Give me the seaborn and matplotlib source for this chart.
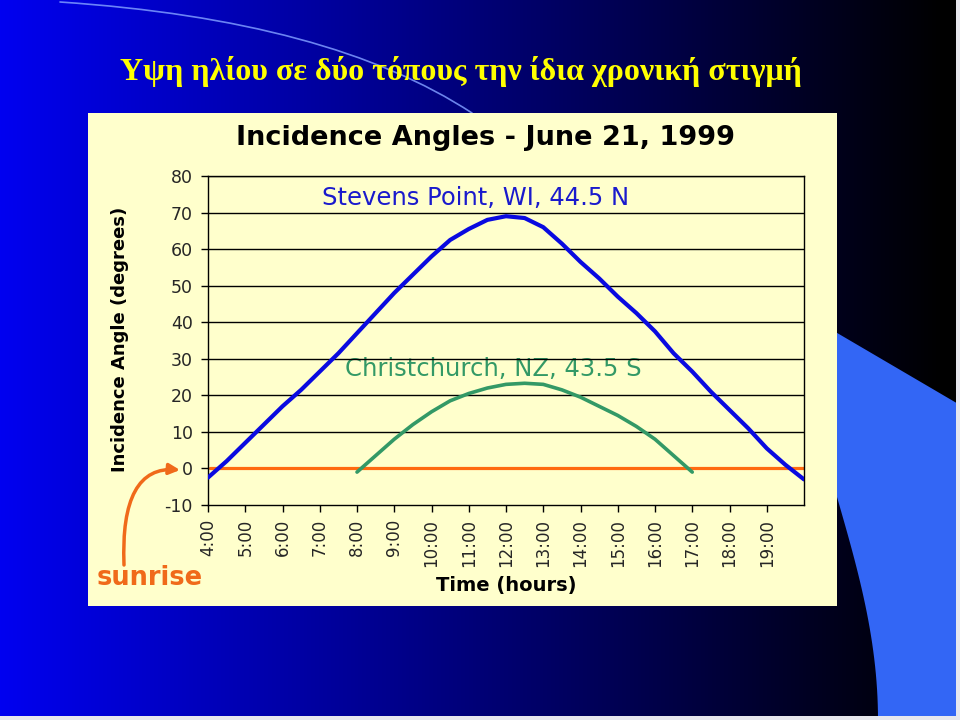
import numpy as np
import pandas as pd
import matplotlib
matplotlib.use("Agg")
import matplotlib.pyplot as plt
import seaborn as sns
from matplotlib.patches import Rectangle, Polygon, FancyArrowPatch
from matplotlib.path import Path

# ---------------- data ----------------
stevens_hours = [4.0, 4.5, 5.0, 5.5, 6.0, 6.5, 7.0, 7.5, 8.0, 8.5, 9.0, 9.5, 10.0,
                 10.5, 11.0, 11.5, 12.0, 12.5, 13.0, 13.5, 14.0, 14.5, 15.0, 15.5,
                 16.0, 16.5, 17.0, 17.5, 18.0, 18.5, 19.0, 19.5, 20.0]
stevens_angle = [-2.5, 2.0, 7.0, 12.0, 17.0, 21.5, 26.5, 31.5, 37.0, 42.5, 48.0, 53.0, 58.0,
                 62.5, 65.5, 68.0, 69.0, 68.5, 66.0, 61.5, 56.5, 52.0, 47.0, 42.5,
                 37.5, 31.5, 26.5, 21.0, 16.0, 11.0, 5.5, 1.0, -3.0]

christ_hours = [8.0, 8.5, 9.0, 9.5, 10.0, 10.5, 11.0, 11.5, 12.0, 12.5, 13.0,
                13.5, 14.0, 14.5, 15.0, 15.5, 16.0, 16.5, 17.0]
christ_angle = [-1.0, 3.5, 8.0, 12.0, 15.5, 18.5, 20.5, 22.0, 23.0, 23.3, 23.0,
                21.5, 19.5, 17.0, 14.5, 11.5, 8.0, 3.5, -1.0]

horizon_hours = [4.05, 20.0]
horizon_angle = [0.0, 0.0]

x_ticks = list(range(4, 20))
x_tick_labels = [f"{h}:00" for h in x_ticks]
y_ticks = list(range(-10, 81, 10))

slide_title = "Υψη ηλίου σε δύο τόπους την ίδια χρονική στιγμή"
chart_title = "Incidence Angles - June 21, 1999"
label_stevens = "Stevens Point, WI, 44.5 N"
label_christ = "Christchurch, NZ, 43.5 S"
x_label = "Time (hours)"
y_label = "Incidence Angle (degrees)"
sunrise_label = "sunrise"

df_s = pd.DataFrame({"hour": stevens_hours, "angle": stevens_angle})
df_c = pd.DataFrame({"hour": christ_hours, "angle": christ_angle})
df_h = pd.DataFrame({"hour": horizon_hours, "angle": horizon_angle})

# ---------------- figure ----------------
sns.set_theme(style="white")
plt.rcParams["font.family"] = ["DejaVu Sans"]

W, H = 960, 720
fig = plt.figure(figsize=(9.6, 7.2), dpi=100)

# background axes in pixel coordinates
bg = fig.add_axes([0, 0, 1, 1])
bg.set_xlim(0, W)
bg.set_ylim(H, 0)
bg.axis("off")
bg.set_zorder(0)

xs = np.linspace(0, 1, 512)
fac = np.clip(1 - xs * W / 945, 0, 1)
grad = np.zeros((2, 512, 3))
grad[..., 2] = (240 / 255) * fac
bg.imshow(grad, extent=[0, W, H, 0], aspect="auto", zorder=0)

# light-blue shape at bottom right
t = np.linspace(0, 1, 30)
curve_x = 837 + (878 - 837) * np.sin(t * np.pi / 2)
curve_y = 497 + (720 - 497) * t
poly_pts = [(815, 320), (960, 405), (960, 720)] + list(zip(curve_x[::-1], curve_y[::-1])) + [(830, 440)]
bg.add_patch(Polygon(poly_pts, closed=True, facecolor="#3366f5", edgecolor="none", zorder=1))

# thin arc top-left
arc = Path([(60, 2), (330, 20), (472, 113)], [Path.MOVETO, Path.CURVE3, Path.CURVE3])
bg.add_patch(FancyArrowPatch(path=arc, arrowstyle="-", color="#7f9cff", lw=1.2, alpha=0.85, zorder=2))

# image borders
bg.add_patch(Rectangle((956, 0), 4, H, facecolor="#e8e8ee", edgecolor="none", zorder=3))
bg.add_patch(Rectangle((0, 716), W, 4, facecolor="#e8e8ee", edgecolor="none", zorder=3))

# chart panel
bg.add_patch(Rectangle((88, 113), 749, 493, facecolor="#ffffcc", edgecolor="none", zorder=3))

# slide title
bg.text(461, 80, slide_title, color="#ffff00", fontsize=23, fontweight="bold",
        family=["Liberation Serif", "DejaVu Serif"], ha="center", va="baseline", zorder=5)

# chart texts
bg.text(485, 138, chart_title, color="black", fontsize=19.5, fontweight="bold",
        ha="center", va="center", zorder=5)
bg.text(322, 198, label_stevens, color="#1a1acc", fontsize=17.5, ha="left", va="center", zorder=5)
bg.text(345, 369, label_christ, color="#339966", fontsize=17.5, ha="left", va="center", zorder=5)
bg.text(120, 339, y_label, color="black", fontsize=13, fontweight="bold", rotation=90,
        ha="center", va="center", zorder=5)
bg.text(506, 585, x_label, color="black", fontsize=14, fontweight="bold",
        ha="center", va="center", zorder=5)
bg.text(97, 578, sunrise_label, color="#f06a1a", fontsize=18.5, fontweight="bold",
        ha="left", va="center", zorder=5)

arrow_path = Path([(124, 565), (120, 465), (180, 470)], [Path.MOVETO, Path.CURVE3, Path.CURVE3])
bg.add_patch(FancyArrowPatch(path=arrow_path, arrowstyle="-|>", mutation_scale=16,
                             color="#f06a1a", lw=2.5, zorder=5))

# ---------------- chart axes ----------------
ax = fig.add_axes([208 / W, 1 - 505 / H, (804 - 208) / W, (505 - 176) / H])
ax.set_facecolor("none")
ax.set_zorder(4)

sns.lineplot(data=df_h, x="hour", y="angle", ax=ax, color="#ff6a10", lw=2.3, zorder=2)
sns.lineplot(data=df_c, x="hour", y="angle", ax=ax, color="#339966", lw=2.6, zorder=3)
sns.lineplot(data=df_s, x="hour", y="angle", ax=ax, color="#0a0ae0", lw=3.0, zorder=4)

ax.set_xlim(4, 20)
ax.set_ylim(-10, 80)
ax.set_yticks(y_ticks)
ax.set_yticklabels([str(v) for v in y_ticks], fontsize=12.5)
ax.set_xticks(x_ticks)
ax.set_xticklabels(x_tick_labels, rotation=90, fontsize=12)
for yv in y_ticks[1:]:
    ax.axhline(yv, color="black", lw=1.0, zorder=1)
ax.tick_params(axis="y", direction="out", length=5, width=1, color="black", left=True, pad=6)
ax.tick_params(axis="x", direction="out", length=5, width=1, color="black", bottom=True, pad=5)
for s in ax.spines.values():
    s.set_color("black")
    s.set_linewidth(1.0)
    s.set_visible(True)
ax.set_xlabel("")
ax.set_ylabel("")

fig.savefig("out.png", dpi=100)
